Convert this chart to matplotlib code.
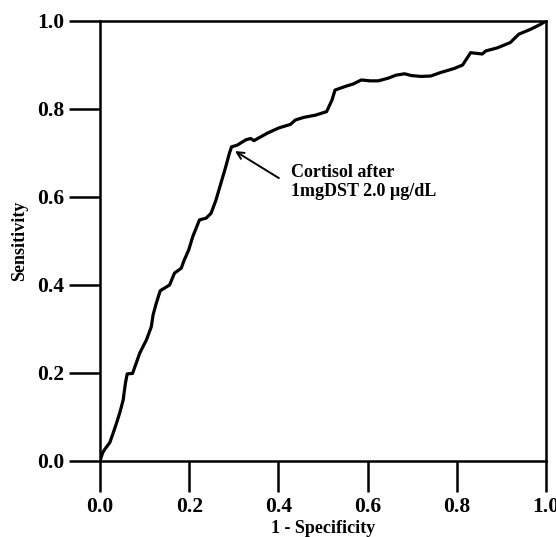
import matplotlib
matplotlib.use("Agg")
import matplotlib.pyplot as plt

# ROC curve
fpr = [0.0, 0.006, 0.011, 0.022, 0.028, 0.037, 0.045, 0.052, 0.057, 0.061, 0.073,
       0.081, 0.089, 0.104, 0.115, 0.119, 0.126, 0.135, 0.156, 0.167, 0.182, 0.189,
       0.199, 0.208, 0.223, 0.238, 0.249, 0.260, 0.271, 0.282, 0.290, 0.295, 0.308,
       0.327, 0.338, 0.345, 0.375, 0.401, 0.427, 0.438, 0.457, 0.483, 0.508, 0.520,
       0.527, 0.549, 0.568, 0.586, 0.605, 0.624, 0.646, 0.664, 0.683, 0.698, 0.720,
       0.742, 0.764, 0.794, 0.813, 0.831, 0.857, 0.865, 0.891, 0.920, 0.939, 0.965,
       0.987, 1.0]
tpr = [0.0, 0.019, 0.027, 0.042, 0.059, 0.086, 0.112, 0.139, 0.177, 0.198, 0.199,
       0.222, 0.245, 0.275, 0.305, 0.332, 0.358, 0.387, 0.400, 0.427, 0.438, 0.457,
       0.480, 0.510, 0.548, 0.552, 0.563, 0.593, 0.631, 0.669, 0.699, 0.714, 0.718,
       0.730, 0.733, 0.728, 0.745, 0.757, 0.765, 0.775, 0.781, 0.786, 0.794, 0.820,
       0.843, 0.851, 0.857, 0.866, 0.864, 0.864, 0.870, 0.877, 0.880, 0.876, 0.874,
       0.875, 0.883, 0.892, 0.900, 0.928, 0.925, 0.932, 0.939, 0.951, 0.970, 0.981,
       0.992, 1.0]

ticks = [0.0, 0.2, 0.4, 0.6, 0.8, 1.0]
tick_labels = ["0.0", "0.2", "0.4", "0.6", "0.8", "1.0"]
cut_point = (0.300, 0.706)
cut_text = "Cortisol after\n1mgDST 2.0 \u00b5g/dL"

plt.rcParams['font.family'] = ['Liberation Serif', 'DejaVu Serif']
plt.rcParams['font.weight'] = 'bold'

fig = plt.figure(figsize=(5.56, 5.37), dpi=100)
ax = fig.add_axes([100 / 556, (537 - 461) / 537, 446 / 556, 440 / 537])

ax.plot(fpr, tpr, color='k', lw=2.3, solid_joinstyle='round')

ax.set_xlim(0, 1)
ax.set_ylim(0, 1)
ax.set_xticks(ticks)
ax.set_xticklabels(tick_labels, fontsize=15.5, fontweight='bold')
ax.set_yticks(ticks)
ax.set_yticklabels(tick_labels, fontsize=15.5, fontweight='bold')
ax.tick_params(direction='out', length=22, width=1.8, pad=4)
for s in ax.spines.values():
    s.set_linewidth(1.8)

ax.set_xlabel("1 - Specificity", fontsize=13, fontweight='bold', labelpad=2)
ax.set_ylabel("Sensitivity", fontsize=13, fontweight='bold', labelpad=6)

# arrow to the cut-off
ax.annotate("", xy=cut_point, xytext=(0.401, 0.643),
            arrowprops=dict(arrowstyle='->,head_length=0.5,head_width=0.25',
                            color='k', lw=1.4, shrinkA=0, shrinkB=1))
ax.text(0.428, 0.634, cut_text, fontsize=13, fontweight='bold',
        ha='left', va='center', linespacing=1.1)

fig.savefig("out.png", dpi=100)
